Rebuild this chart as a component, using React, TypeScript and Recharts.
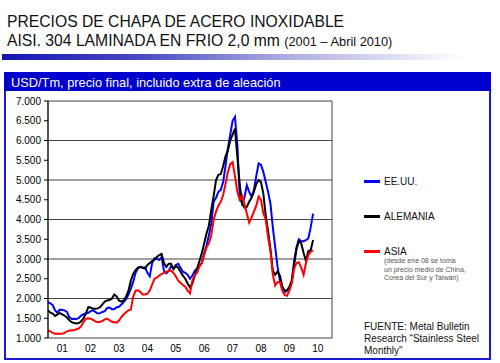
import React from "react";
import { LineChart, Line, XAxis, YAxis, CartesianGrid } from "recharts";

// Monthly prices USD/Tm, Jan 2001 onwards
const usa = [
  1910, 1880, 1830, 1700, 1640, 1720, 1710, 1700, 1660, 1530, 1480, 1490,
  1480, 1510, 1570, 1600, 1620, 1640, 1680, 1700, 1660, 1620, 1630, 1660,
  1680, 1760, 1770, 1730, 1730, 1780, 1790, 1850, 1910, 1980, 2100, 2250,
  2420, 2650, 2760, 2800, 2780, 2790, 2650, 2560, 2900, 3020, 3000, 2980,
  3050, 2700, 2640, 2700, 2820, 2760, 2850, 2880, 2780, 2680, 2650, 2600,
  2500, 2580, 2700, 2760, 2820, 2900, 3150, 3350, 3600, 3900, 4450, 4550,
  4700, 4750, 4950, 5350, 5800, 6150, 6500, 6600, 5900, 4600, 4400, 4550,
  4870, 4700, 4580, 4750, 5100, 5420, 5380, 5200, 4950, 4700, 4400, 3800,
  3300, 2800, 2450, 2250, 2150, 2200, 2250, 2450, 2950, 3300, 3500, 3450,
  3450, 3480, 3520, 3800, 4150,
];

const alemania = [
  1700, 1640, 1620, 1560, 1600, 1630, 1600, 1570, 1520, 1450, 1400, 1380,
  1370, 1380, 1420, 1500, 1620, 1780, 1770, 1740, 1740, 1750, 1780, 1850,
  1920, 1950, 1960, 2000, 2100, 2050, 1950, 1920, 1950, 2050, 2200, 2450,
  2620, 2720, 2780, 2800, 2780, 2760, 2850, 2900, 2950, 2980, 3050, 3100,
  3130, 2900, 2800, 2880, 2880, 2740, 2820, 2780, 2680, 2580, 2500, 2380,
  2280, 2380, 2580, 2750, 2950, 3150, 3400, 3650, 3850, 4250, 4600, 5000,
  5130, 5150, 5350, 5600, 5750, 6000, 6150, 6300, 5600, 4900, 4400, 4300,
  4320, 4450, 4550, 4700, 4900, 5000, 4950, 4650, 4100, 3700, 3250, 2700,
  2600, 2680, 2580, 2300, 2200, 2200, 2300, 2450, 2850, 3250, 3450, 3400,
  3150, 2950, 3200, 3220, 3480,
];

const asia = [
  1190, 1170, 1130, 1110, 1110, 1110, 1110, 1130, 1170, 1190, 1190, 1200,
  1220, 1240, 1300, 1400, 1490, 1500, 1490, 1460, 1420, 1400, 1410, 1430,
  1470, 1490, 1450, 1410, 1400, 1390, 1440, 1530, 1600, 1650, 1700, 1720,
  2050, 2200, 2210, 2170, 2100, 2100, 2120, 2200, 2350, 2500, 2530, 2580,
  2620, 2650, 2680, 2700, 2700, 2650, 2560, 2450, 2400, 2340, 2300, 2200,
  2130, 2450, 2600, 2650, 2820, 2900, 3100, 3300, 3400, 3600, 4000, 4200,
  4350, 4450, 4620, 4900, 5200, 5400, 5450, 5100, 4700, 4500, 4600, 4400,
  4150, 3920, 4050, 4200, 4350, 4580, 4500, 4150, 4000, 3550, 3200, 2600,
  2330, 2420, 2420, 2200, 2090, 2070, 2200, 2380, 2750, 2900, 2920, 2780,
  2600, 2900, 3100, 3180, 3220,
];

const years = ["01", "02", "03", "04", "05", "06", "07", "08", "09", "10"];
const yTicks = [1000, 1500, 2000, 2500, 3000, 3500, 4000, 4500, 5000, 5500, 6000, 6500, 7000];

const rows = usa.map((v, i) => ({ m: i, usa: v, alemania: alemania[i], asia: asia[i] }));
const gridTicks = [...years.map((_, i) => i * 12), years.length * 12];
const labelTicks = years.map((_, i) => i * 12 + 6);

const fmtThousands = (v: number) =>
  v >= 1000 ? `${Math.floor(v / 1000)}.${String(v % 1000).padStart(3, "0")}` : String(v);

const FONT = '"Liberation Sans", Arial, Helvetica, sans-serif';

function LegendItem({ top, color, label }: { top: number; color: string; label: string }) {
  return (
    <>
      <div style={{ position: "absolute", left: 364, top: top + 4, width: 16, height: 3, background: color }} />
      <div style={{ position: "absolute", left: 384, top, fontSize: 10, lineHeight: "11.5px", color: "#111" }}>{label}</div>
    </>
  );
}

export default function App() {
  return (
    <div
      style={{
        position: "absolute",
        left: 0,
        top: 0,
        width: 500,
        height: 363,
        background: "#fff",
        overflow: "hidden",
        fontFamily: FONT,
      }}
    >
      {/* title */}
      <div style={{ position: "absolute", left: 7, top: 12.5, fontSize: 15.7, lineHeight: "18px", color: "#111", whiteSpace: "nowrap" }}>
        PRECIOS DE CHAPA DE ACERO INOXIDABLE
      </div>
      <div style={{ position: "absolute", left: 7, top: 32, fontSize: 15.7, lineHeight: "18px", color: "#111", whiteSpace: "nowrap" }}>
        AISI. 304 LAMINADA EN FRIO 2,0 mm <span style={{ fontSize: 12.8 }}>(2001 – Abril 2010)</span>
      </div>
      <div
        style={{
          position: "absolute",
          left: 2,
          top: 54,
          width: 460,
          height: 6,
          background: "linear-gradient(to right, #1414b4 0%, #4a4ac4 30%, #a8a8e0 60%, #ffffff 100%)",
        }}
      />

      {/* panel */}
      <div
        style={{
          position: "absolute",
          left: 4,
          top: 72,
          width: 487,
          height: 288,
          boxSizing: "border-box",
          border: "2px solid #1a1ad0",
        }}
      />
      <div style={{ position: "absolute", left: 4, top: 72, width: 487, height: 19, background: "#0000cc" }} />
      <div style={{ position: "absolute", left: 11, top: 75.5, fontSize: 12.8, lineHeight: "14.5px", color: "#fff", whiteSpace: "nowrap" }}>
        USD/Tm, precio final, incluido extra de aleación
      </div>

      <LineChart
        width={500}
        height={363}
        data={rows}
        margin={{ top: 101, right: 168, bottom: 5, left: 0 }}
        style={{ position: "absolute", left: 0, top: 0, fontFamily: FONT }}
      >
        <CartesianGrid xAxisId="grid" stroke="#444" strokeWidth={1} />
        <XAxis
          xAxisId="grid"
          type="number"
          dataKey="m"
          domain={[0, 120]}
          ticks={gridTicks}
          tick={false}
          tickSize={4}
          height={0}
          axisLine={{ stroke: "#000" }}
          tickLine={{ stroke: "#000" }}
        />
        <XAxis
          xAxisId="year"
          type="number"
          dataKey="m"
          domain={[0, 120]}
          ticks={labelTicks}
          tickFormatter={(v: number) => years[Math.floor(v / 12)]}
          axisLine={false}
          tickLine={false}
          tickSize={5}
          height={20}
          tick={{ fontSize: 10, fill: "#000" }}
        />
        <YAxis
          domain={[1000, 7000]}
          ticks={yTicks}
          width={48}
          tickSize={4}
          tickMargin={3}
          tickFormatter={fmtThousands}
          axisLine={{ stroke: "#000" }}
          tickLine={{ stroke: "#000" }}
          tick={{ fontSize: 10, fill: "#000" }}
        />
        <Line xAxisId="grid" dataKey="usa" stroke="#0000ff" strokeWidth={2} dot={false} isAnimationActive={false} />
        <Line xAxisId="grid" dataKey="alemania" stroke="#000000" strokeWidth={2} dot={false} isAnimationActive={false} />
        <Line xAxisId="grid" dataKey="asia" stroke="#ff0000" strokeWidth={2} dot={false} isAnimationActive={false} />
      </LineChart>

      {/* legend */}
      <LegendItem top={176} color="#0000ff" label="EE.UU." />
      <LegendItem top={211} color="#000000" label="ALEMANIA" />
      <LegendItem top={246} color="#ff0000" label="ASIA" />
      <div style={{ position: "absolute", left: 384, top: 257, fontSize: 7, lineHeight: "8.7px", color: "#555", whiteSpace: "nowrap" }}>
        (desde ene 08 se toma
        <br />
        un precio medio de China,
        <br />
        Corea del Sur y Taiwan)
      </div>
      <div style={{ position: "absolute", left: 364, top: 320.7, fontSize: 10, lineHeight: "12.2px", color: "#111", whiteSpace: "nowrap" }}>
        FUENTE: Metal Bulletin
        <br />
        Research “Stainless Steel
        <br />
        Monthly”
      </div>
    </div>
  );
}
